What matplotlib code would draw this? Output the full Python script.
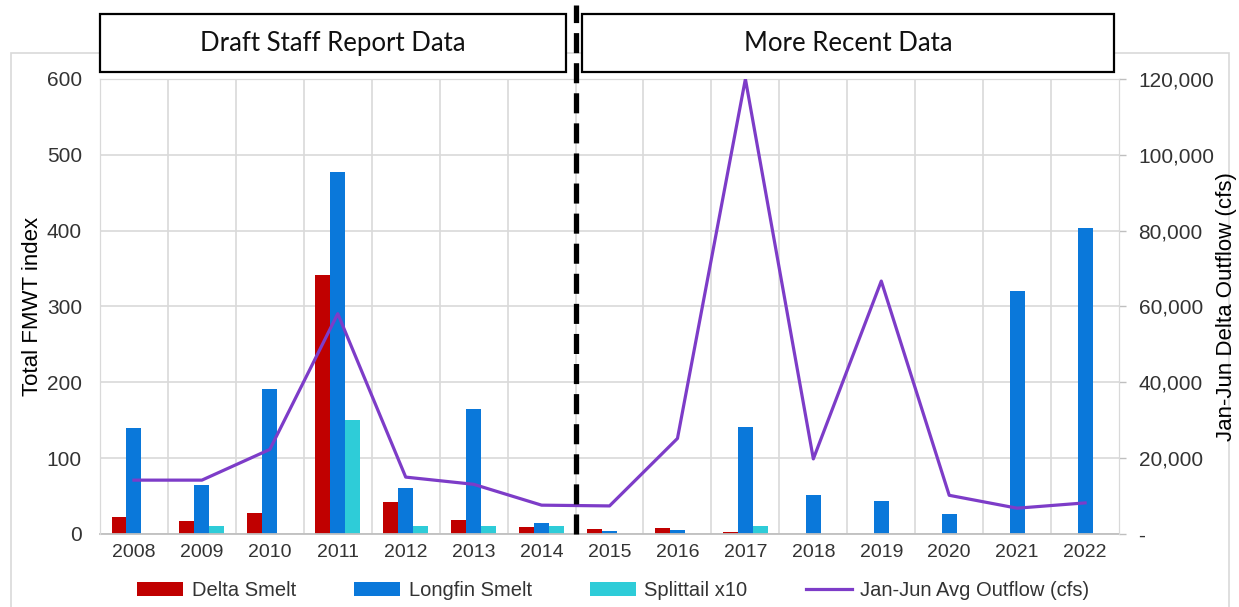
import numpy as np
import matplotlib
matplotlib.use('Agg')
import matplotlib.pyplot as plt
from matplotlib.patches import Rectangle
from matplotlib.ticker import FuncFormatter, MultipleLocator
import matplotlib.transforms as mtransforms

# data
years = ['2008', '2009', '2010', '2011', '2012', '2013', '2014',
         '2015', '2016', '2017', '2018', '2019', '2020', '2021', '2022']
delta_smelt = [23, 17, 28, 341, 42, 19, 9, 7, 8, 2, 0, 0, 0, 0, 0]
longfin_smelt = [140, 64, 191, 477, 61, 165, 15, 4, 5, 141, 52, 43, 27, 321, 403]
splittail_x10 = [0, 10, 0, 150, 10, 10, 10, 0, 0, 10, 0, 0, 0, 0, 0]
outflow = [14200, 14200, 22300, 58100, 15000, 13100, 7600,
           7400, 25200, 120000, 19800, 66700, 10200, 6800, 8200]
period_labels = ['Draft Staff Report Data', 'More Recent Data']
n_old = 7  # years in the draft staff report

plt.rcParams['font.family'] = ['Liberation Sans', 'DejaVu Sans']
txt = '#333333'
grid_c = '#D9D9D9'

fig = plt.figure(figsize=(12.39, 6.07), dpi=100)
ax = fig.add_axes([0.0807, 0.1203, 0.8225, 0.7496])
ax.set_facecolor('none')

x = np.arange(len(years))
w = 0.22
ax.bar(x - w, delta_smelt, w, color='#C00000', label='Delta Smelt', zorder=2)
ax.bar(x, longfin_smelt, w, color='#0A78DA', label='Longfin Smelt', zorder=2)
ax.bar(x + w, splittail_x10, w, color='#2ECCD8', label='Splittail x10', zorder=2)

ax.set_xlim(-0.5, len(years) - 0.5)
ax.set_ylim(0, 600)
ax.yaxis.set_major_locator(MultipleLocator(100))
ax.set_xticks(x)
ax.set_xticklabels(years)
ax.set_xticks(x[:-1] + 0.5, minor=True)
ax.grid(axis='y', color=grid_c, lw=1.2, zorder=0)
ax.grid(axis='x', which='minor', color=grid_c, lw=1.2, zorder=0)
ax.tick_params(axis='x', which='both', length=0, pad=7, labelsize=14, labelcolor=txt)
ax.tick_params(axis='y', length=0, pad=13, labelsize=15, labelcolor=txt)
ax.set_ylabel('Total FMWT index', fontsize=16, color='black', labelpad=3)
for s in ax.spines.values():
    s.set_color(grid_c)
ax.spines['bottom'].set_color('#BFBFBF')
ax.spines['bottom'].set_linewidth(1.3)

ax2 = ax.twinx()
ax2.plot(x, outflow, color='#7D3CC8', lw=2.3, label='Jan-Jun Avg Outflow (cfs)', zorder=3)
ax2.set_ylim(0, 120000)
ax2.yaxis.set_major_locator(MultipleLocator(20000))
ax2.yaxis.set_major_formatter(FuncFormatter(lambda v, p: '-' if v == 0 else f'{v:,.0f}'))
ax2.tick_params(axis='y', length=5, width=1, color='#BFBFBF', pad=9, labelsize=15, labelcolor=txt)
for lab in ax2.get_yticklabels():
    lab.set_horizontalalignment('left')
ax2.set_ylabel('Jan-Jun Delta Outflow (cfs)', fontsize=16, color='black', labelpad=1)
for s in ax2.spines.values():
    s.set_color(grid_c)
ax2.spines['bottom'].set_visible(False)

# divider between the two periods and the header boxes
trans = mtransforms.blended_transform_factory(ax2.transData, ax2.transAxes)
div = n_old - 0.5
ax2.plot([div, div], [0, 1.163], transform=trans, color='black', lw=3.8,
         linestyle=(0, (3.8, 1.9)), clip_on=False, zorder=5)
box_spans = [(-0.5, div - 0.14), (div + 0.1, len(years) - 0.57)]
for (x0, x1), lab in zip(box_spans, period_labels):
    ax2.add_patch(Rectangle((x0, 1.0154), x1 - x0, 0.1275, transform=trans,
                            facecolor='white', edgecolor='black', lw=1.6,
                            clip_on=False, zorder=6))
    ax2.text((x0 + x1) / 2, 1.079, lab, transform=trans, ha='center', va='center',
             fontsize=18.5, family=['Lato', 'DejaVu Sans'], color='#111111', zorder=7)

# outer chart frame
fig.patches.append(Rectangle((0.0089, -0.02), 0.983, 0.9327, transform=fig.transFigure,
                             fill=False, edgecolor=grid_c, lw=1.2, zorder=-5))

h1, l1 = ax.get_legend_handles_labels()
h2, l2 = ax2.get_legend_handles_labels()
fig.legend(h1 + h2, l1 + l2, loc='center', bbox_to_anchor=(0.495, 0.027), ncol=4,
           frameon=False, fontsize=14.5, handlelength=2.3, handleheight=0.7,
           columnspacing=2.9, handletextpad=0.4, labelcolor=txt)

fig.savefig('out.png', dpi=100)
